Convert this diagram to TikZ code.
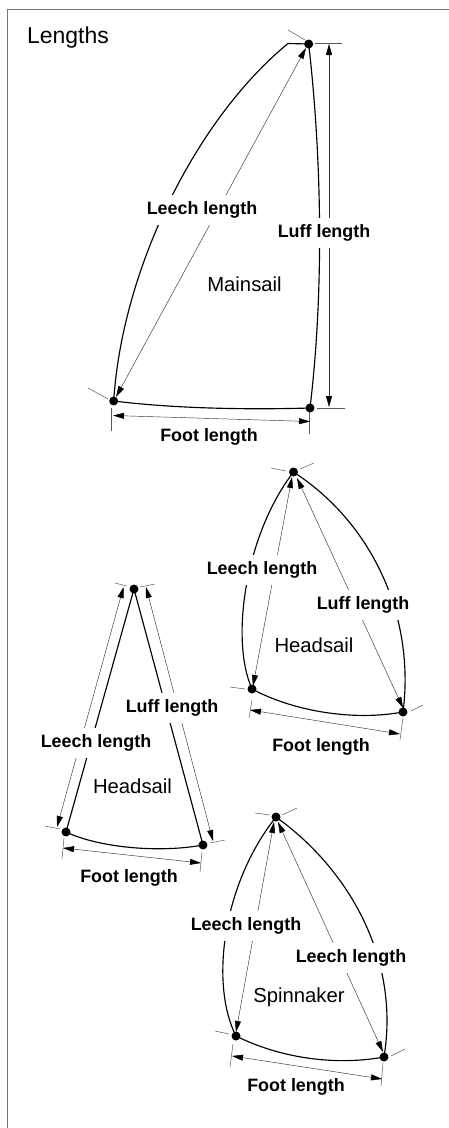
\documentclass[tikz,border=0pt]{standalone}
\usepackage{fontspec}
\setmainfont{Liberation Sans}
\usetikzlibrary{arrows.meta}
\definecolor{framegray}{gray}{0.45}
\tikzset{
  sail/.style={line width=1.15pt,black},
  thinline/.style={line width=0.45pt,black!75},
  tick/.style={line width=0.5pt,black!65},
  dim/.style={line width=0.45pt,black!80,{Triangle[length=11pt,width=6pt,black]}-{Triangle[length=11pt,width=6pt,black]}},
  dot/.style={circle,fill=black,inner sep=0pt,minimum size=9pt},
  lab/.style={fill=white,inner xsep=3pt,inner ysep=0pt,minimum height=30pt,font=\fontsize{17.9}{20}\bfseries\selectfont},
  sailname/.style={inner sep=0pt,font=\fontsize{20.3}{23}\selectfont},
}
\begin{document}
\begin{tikzpicture}[x=1pt,y=-1pt]
\useasboundingbox (0,0) rectangle (449,1128);
\fill[white] (0,0) rectangle (449,1128);
\coordinate (fa) at (7,1128); \coordinate (fb) at (7,9); \coordinate (fc) at (449,9);
\draw[line width=0.9pt,framegray] (fa) -- (fb) -- (fc);
\node[inner sep=0pt,font=\fontsize{23}{26}\selectfont] (title) at (68,38) {Lengths};

% Mainsail
\coordinate (mh) at (288,43.5); \coordinate (mt) at (308.7,44); \coordinate (ml) at (113.7,401); \coordinate (mr) at (310,408);
\draw[sail] (mt) -- (mh) .. controls (195,120) and (122,270) .. (ml);
\draw[sail] (mt) .. controls (323,170) and (323,300) .. (mr);
\draw[sail] (ml) .. controls (170,408) and (240,410) .. (mr);
\coordinate (m1) at (288,30); \coordinate (m2) at (305,40); \draw[tick] (m1) -- (m2);
\coordinate (m3) at (88,388); \coordinate (m4) at (108,399); \draw[tick] (m3) -- (m4);
\coordinate (m5) at (315,43.5); \coordinate (m6) at (342,43.5); \draw[tick] (m5) -- (m6);
\coordinate (m7) at (317,408); \coordinate (m8) at (345,408); \draw[tick] (m7) -- (m8);
\coordinate (m9) at (111,408); \coordinate (m10) at (111,431); \draw[tick] (m9) -- (m10);
\coordinate (m11) at (309.5,411); \coordinate (m12) at (309.5,434); \draw[tick] (m11) -- (m12);
\coordinate (ma1) at (306,48); \coordinate (ma2) at (116,397); \draw[thinline,dim] (ma1) -- (ma2);
\coordinate (ma3) at (329,44); \coordinate (ma4) at (329,407); \draw[thinline,dim] (ma3) -- (ma4);
\coordinate (ma5) at (113,415.5); \coordinate (ma6) at (310,421.5); \draw[thinline,dim] (ma5) -- (ma6);
\node[dot] (mtd) at (mt) {}; \node[dot] (mld) at (ml) {}; \node[dot] (mrd) at (mr) {};
\node[lab] (mleech) at (202,210) {Leech length};
\node[lab] (mluff) at (324,233) {Luff length};
\node[lab,minimum height=20pt] (mfoot) at (209,437) {Foot length};
\node[sailname] (mname) at (244.5,284) {Mainsail};

% Headsail right
\coordinate (ht) at (293.5,472); \coordinate (hl) at (252,689); \coordinate (hr) at (403,712);
\draw[sail] (ht) .. controls (245,535) and (230,640) .. (hl);
\draw[sail] (ht) .. controls (375,525) and (415,620) .. (hr);
\draw[sail] (hl) .. controls (295,712) and (355,721) .. (hr);
\coordinate (h1) at (271,468); \coordinate (h2) at (286,471); \draw[tick] (h1) -- (h2);
\coordinate (h3) at (300,469); \coordinate (h4) at (314,463); \draw[tick] (h3) -- (h4);
\coordinate (h5) at (230,687); \coordinate (h6) at (245,689); \draw[tick] (h5) -- (h6);
\coordinate (h7) at (411,711); \coordinate (h8) at (423,705); \draw[tick] (h7) -- (h8);
\coordinate (h9) at (252,700); \coordinate (h10) at (249,718); \draw[tick] (h9) -- (h10);
\coordinate (h11) at (403,718); \coordinate (h12) at (400,740); \draw[tick] (h11) -- (h12);
\coordinate (ha1) at (292,477); \coordinate (ha2) at (253,686); \draw[thinline,dim] (ha1) -- (ha2);
\coordinate (ha3) at (297,478); \coordinate (ha4) at (403,708); \draw[thinline,dim] (ha3) -- (ha4);
\coordinate (ha5) at (250,710); \coordinate (ha6) at (400,734); \draw[thinline,dim] (ha5) -- (ha6);
\node[dot] (htd) at (ht) {}; \node[dot] (hld) at (hl) {}; \node[dot] (hrd) at (hr) {};
\node[lab] (hleech) at (262,570) {Leech length};
\node[lab] (hluff) at (363,605) {Luff length};
\node[lab,minimum height=20pt] (hfoot) at (321,747) {Foot length};
\node[sailname] (hname) at (314,645) {Headsail};

% Headsail left
\coordinate (kt) at (134,589); \coordinate (kl) at (66,832); \coordinate (kr) at (203,845);
\draw[sail] (kt) -- (kl);
\draw[sail] (kt) -- (kr);
\draw[sail] (kl) .. controls (100,848) and (160,853) .. (kr);
\coordinate (k1) at (115,583); \coordinate (k2) at (127,586); \draw[tick] (k1) -- (k2);
\coordinate (k3) at (140,587); \coordinate (k4) at (155,584); \draw[tick] (k3) -- (k4);
\coordinate (k5) at (45,826); \coordinate (k6) at (60,829); \draw[tick] (k5) -- (k6);
\coordinate (k7) at (210,843); \coordinate (k8) at (225,840); \draw[tick] (k7) -- (k8);
\coordinate (k9) at (64,838); \coordinate (k10) at (62,859); \draw[tick] (k9) -- (k10);
\coordinate (k11) at (202,852); \coordinate (k12) at (200,872); \draw[tick] (k11) -- (k12);
\coordinate (ka1) at (123.5,587); \coordinate (ka2) at (57,827); \draw[thinline,dim] (ka1) -- (ka2);
\coordinate (ka3) at (146,587); \coordinate (ka4) at (213,841); \draw[thinline,dim] (ka3) -- (ka4);
\coordinate (ka5) at (63,848); \coordinate (ka6) at (201,863); \draw[thinline,dim] (ka5) -- (ka6);
\node[dot] (ktd) at (kt) {}; \node[dot] (kld) at (kl) {}; \node[dot] (krd) at (kr) {};
\node[lab] (kluff) at (172,708) {Luff length};
\node[lab] (kleech) at (96,743) {Leech length};
\node[lab,minimum height=20pt] (kfoot) at (129,878) {Foot length};
\node[sailname] (kname) at (132.5,786) {Headsail};

% Spinnaker
\coordinate (st) at (276,817); \coordinate (sl) at (236,1036); \coordinate (sr) at (384,1057);
\draw[sail] (st) .. controls (222,885) and (210,985) .. (sl);
\draw[sail] (st) .. controls (350,870) and (400,960) .. (sr);
\draw[sail] (sl) .. controls (280,1058) and (335,1066) .. (sr);
\coordinate (s1) at (255,813); \coordinate (s2) at (270,815); \draw[tick] (s1) -- (s2);
\coordinate (s3) at (282,815); \coordinate (s4) at (297,808); \draw[tick] (s3) -- (s4);
\coordinate (s5) at (215,1031); \coordinate (s6) at (229,1034); \draw[tick] (s5) -- (s6);
\coordinate (s7) at (391,1056); \coordinate (s8) at (405,1049); \draw[tick] (s7) -- (s8);
\coordinate (s9) at (233,1044); \coordinate (s10) at (230,1067); \draw[tick] (s9) -- (s10);
\coordinate (s11) at (383,1063); \coordinate (s12) at (381,1086); \draw[tick] (s11) -- (s12);
\coordinate (sa1) at (274,822); \coordinate (sa2) at (236,1032); \draw[thinline,dim] (sa1) -- (sa2);
\coordinate (sa3) at (278,822); \coordinate (sa4) at (383,1052); \draw[thinline,dim] (sa3) -- (sa4);
\coordinate (sa5) at (232,1056); \coordinate (sa6) at (382,1079); \draw[thinline,dim] (sa5) -- (sa6);
\node[dot] (std) at (st) {}; \node[dot] (sld) at (sl) {}; \node[dot] (srd) at (sr) {};
\node[lab] (sleech) at (246,926) {Leech length};
\node[lab] (sleechb) at (351,958) {Leech length};
\node[lab,minimum height=20pt] (sfoot) at (296,1087) {Foot length};
\node[sailname] (sname) at (299,997) {Spinnaker};
\end{tikzpicture}
\end{document}
